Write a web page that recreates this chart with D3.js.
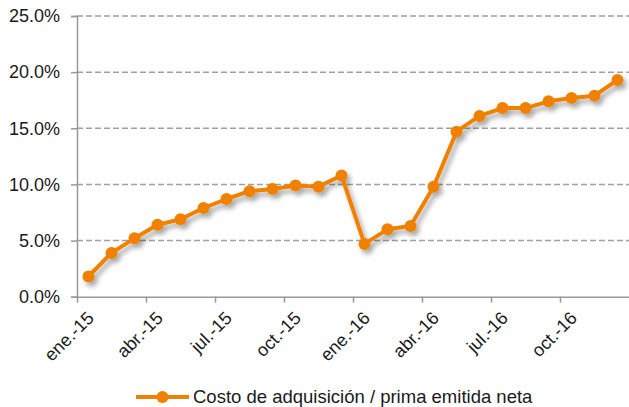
<!DOCTYPE html>
<html>
<head>
<meta charset="utf-8">
<script src="https://cdn.jsdelivr.net/npm/d3@7"></script>
<style>
  body { margin: 0; background: #fff; }
  text { font-family: "Liberation Sans", Arial, sans-serif; }
</style>
</head>
<body>
<div id="chart"></div>
<script>
// monthly categories, ene.-15 .. dic.-16
const months = ["ene.-15", "feb.-15", "mar.-15", "abr.-15", "may.-15", "jun.-15",
                "jul.-15", "ago.-15", "sep.-15", "oct.-15", "nov.-15", "dic.-15",
                "ene.-16", "feb.-16", "mar.-16", "abr.-16", "may.-16", "jun.-16",
                "jul.-16", "ago.-16", "sep.-16", "oct.-16", "nov.-16", "dic.-16"];
// Costo de adquisición / prima emitida neta (%)
const ratio = [1.8, 3.9, 5.2, 6.4, 6.9, 7.9, 8.7, 9.4, 9.6, 9.9, 9.8, 10.8,
               4.7, 6.0, 6.3, 9.8, 14.7, 16.1, 16.8, 16.8, 17.4, 17.7, 17.9, 19.3];
const yTicks = [0, 5, 10, 15, 20, 25];
const seriesName = "Costo de adquisición / prima emitida neta";

const width = 629, height = 407;
const margin = { left: 77, right: 0, top: 16, bottom: 110 };
const orange = "#F08000";

const svg = d3.select("#chart")
    .append("svg")
    .attr("width", width)
    .attr("height", height);

const defs = svg.append("defs");
const shadow = defs.append("filter").attr("id", "shadow")
    .attr("x", "-20%").attr("y", "-20%").attr("width", "140%").attr("height", "140%");
shadow.append("feDropShadow")
    .attr("dx", 3).attr("dy", 4).attr("stdDeviation", 2.5)
    .attr("flood-color", "#000").attr("flood-opacity", 0.35);

// category axis: one slot per month, point in the middle of the slot
const x = d3.scaleLinear()
    .domain([0, months.length])
    .range([margin.left, width - margin.right]);
const y = d3.scaleLinear()
    .domain([0, 25])
    .range([height - margin.bottom - 0.3, margin.top]);

// gridlines
svg.append("g")
    .selectAll("line")
    .data(yTicks.filter(d => d > 0))
    .join("line")
    .attr("x1", margin.left)
    .attr("x2", width)
    .attr("y1", d => y(d))
    .attr("y2", d => y(d))
    .attr("stroke", "#A0A0A0")
    .attr("stroke-width", 1.5)
    .attr("stroke-dasharray", "6,3");

// y axis
const yAxis = svg.append("g")
    .attr("transform", `translate(${margin.left},0)`)
    .call(d3.axisLeft(y).tickValues(yTicks).tickSize(6).tickPadding(11)
        .tickFormat(d => d.toFixed(1) + "%"));
yAxis.select(".domain").attr("stroke", "#999").attr("stroke-width", 1.5);
yAxis.selectAll(".tick line").attr("stroke", "#999").attr("stroke-width", 1.5);
yAxis.selectAll(".tick text")
    .style("font-size", "18px")
    .attr("fill", "#1a1a1a");

// x axis
const tickIdx = d3.range(0, months.length, 3);
const xAxis = svg.append("g")
    .attr("transform", `translate(0,${y(0)})`)
    .call(d3.axisBottom(x).tickValues(tickIdx).tickSize(6).tickSizeOuter(0)
        .tickFormat(i => months[i]));
xAxis.select(".domain").attr("stroke", "#999").attr("stroke-width", 1.5);
xAxis.selectAll(".tick line").attr("stroke", "#999").attr("stroke-width", 1.5);
xAxis.selectAll(".tick text")
    .style("font-size", "18px")
    .attr("fill", "#1a1a1a")
    .attr("text-anchor", "end")
    .attr("y", 0)
    .attr("dy", "0.35em")
    .attr("transform", "translate(13,18) rotate(-45)");

// series
const pts = ratio.map((v, i) => ({ i: i, v: v }));
const line = d3.line()
    .x(d => x(d.i + 0.5))
    .y(d => y(d.v));

const series = svg.append("g").attr("filter", "url(#shadow)");
series.append("path")
    .datum(pts)
    .attr("fill", "none")
    .attr("stroke", orange)
    .attr("stroke-width", 4)
    .attr("stroke-linejoin", "round")
    .attr("d", line);
series.selectAll("circle")
    .data(pts)
    .join("circle")
    .attr("cx", d => x(d.i + 0.5))
    .attr("cy", d => y(d.v))
    .attr("r", 6)
    .attr("fill", orange);

// legend
const legend = svg.append("g").attr("transform", "translate(136,397)");
legend.append("line")
    .attr("x1", 0).attr("x2", 53)
    .attr("stroke", orange).attr("stroke-width", 4);
legend.append("circle")
    .attr("cx", 26.5).attr("r", 6).attr("fill", orange);
legend.append("text")
    .attr("x", 57).attr("dy", "0.35em")
    .text(seriesName)
    .style("font-size", "18.5px")
    .attr("fill", "#1a1a1a");
</script>
</body>
</html>
